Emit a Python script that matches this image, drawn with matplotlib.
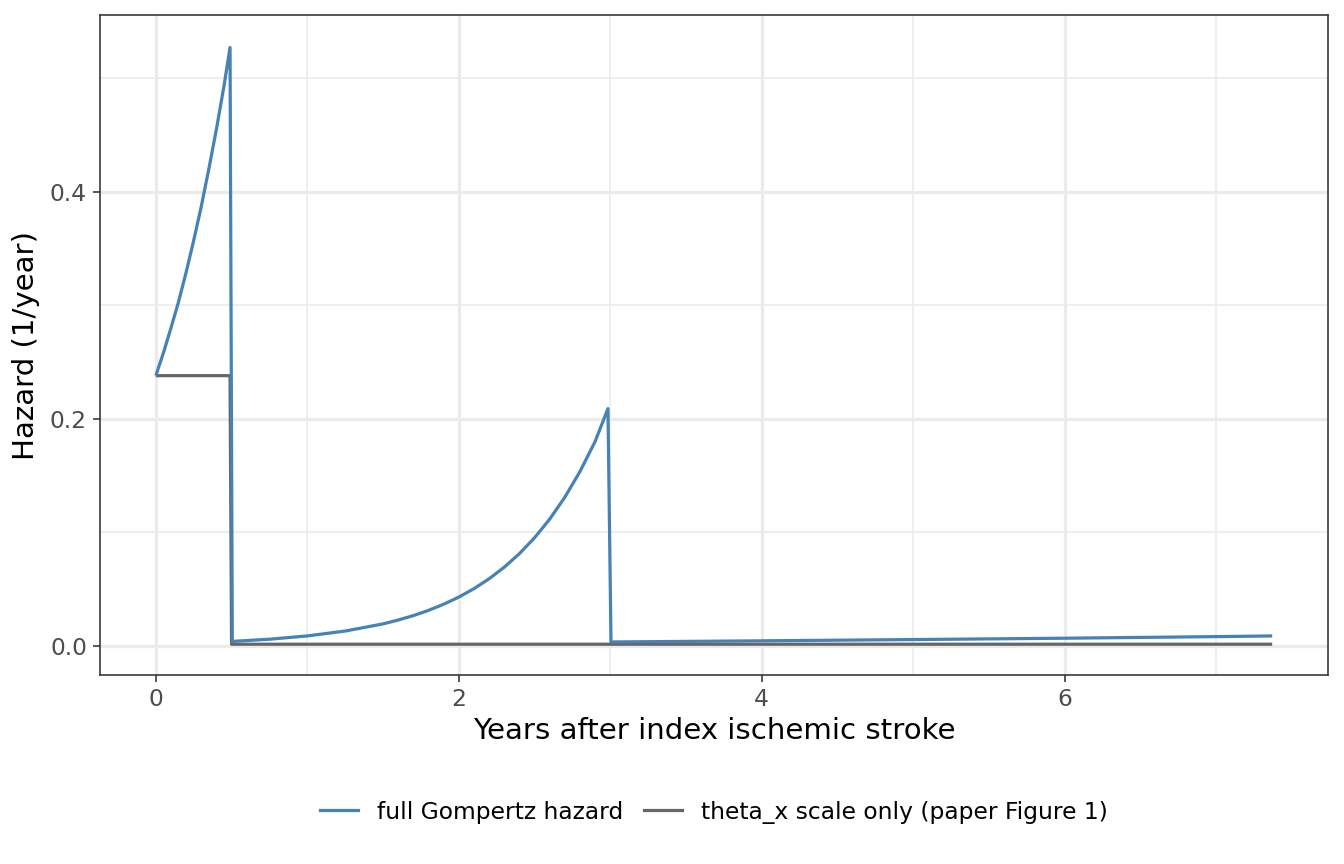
import matplotlib.pyplot as plt
from matplotlib.lines import Line2D

# full Gompertz hazard
gomp_t = [0.0, 0.025, 0.05, 0.075, 0.1, 0.15, 0.2, 0.25, 0.3, 0.35, 0.4, 0.45, 0.49,
          0.505, 0.75, 1.0, 1.25, 1.5, 1.6, 1.7, 1.8, 1.9, 2.0, 2.1, 2.2, 2.3, 2.4,
          2.5, 2.6, 2.7, 2.8, 2.9, 2.985,
          3.005, 4.0, 5.0, 6.0, 7.0, 7.37]
gomp_h = [0.238, 0.248, 0.258, 0.269, 0.280, 0.303, 0.329, 0.357, 0.387, 0.420, 0.455, 0.493, 0.527,
          0.0040, 0.0059, 0.0088, 0.0131, 0.0194, 0.0228, 0.0267, 0.0313, 0.0367, 0.043, 0.0504,
          0.0591, 0.0693, 0.0812, 0.0952, 0.1116, 0.1309, 0.1535, 0.180, 0.209,
          0.0035, 0.0045, 0.0056, 0.0068, 0.0082, 0.0088]

# theta_x scale only
theta_t = [0.0, 0.49, 0.50, 7.37]
theta_h = [0.238, 0.238, 0.0015, 0.0015]

labels = ["full Gompertz hazard", "theta_x scale only (paper Figure 1)"]
colors = ["#4682B4", "#666666"]

fig = plt.figure(figsize=(1344 / 144, 864 / 144), dpi=144)
ax = fig.add_axes([100 / 1344, 1 - 675 / 864, 1228 / 1344, 660 / 864])

ax.plot(theta_t, theta_h, color=colors[1], lw=1.6, zorder=3, solid_capstyle="butt")
ax.plot(gomp_t, gomp_h, color=colors[0], lw=1.6, zorder=4, solid_capstyle="butt")

ax.set_xlim(-0.3685, 7.7385)
ax.set_ylim(-0.0256, 0.5556)
ax.set_xticks([0, 2, 4, 6])
ax.set_xticklabels(["0", "2", "4", "6"])
ax.set_yticks([0.0, 0.2, 0.4])
ax.set_yticklabels(["0.0", "0.2", "0.4"])
ax.set_xticks([1, 3, 5, 7], minor=True)
ax.set_yticks([0.1, 0.3, 0.5], minor=True)

ax.grid(which="major", color="#EBEBEB", lw=1.6)
ax.grid(which="minor", color="#EBEBEB", lw=0.8)
ax.set_axisbelow(True)
ax.tick_params(which="major", length=3.5, width=0.8, color="#333333",
               labelsize=11.7, labelcolor="#4D4D4D", pad=3)
ax.tick_params(which="minor", length=0)
for s in ax.spines.values():
    s.set_color("#333333")
    s.set_linewidth(0.8)

ax.set_xlabel("Years after index ischemic stroke", fontsize=14.6, color="black", labelpad=3)
ax.set_ylabel("Hazard (1/year)", fontsize=14.6, color="black", labelpad=5)

# legend centred under the panel, as ggplot does
handles = [Line2D([], [], color=c, lw=1.6) for c in colors]
fig.legend(handles, labels, loc="center", bbox_to_anchor=(714 / 1344, 1 - 812 / 864),
           ncol=2, frameon=False, fontsize=11.7, handlelength=1.62,
           handletextpad=0.85, columnspacing=0.85, borderpad=0)

fig.savefig("out.png", dpi=144)
